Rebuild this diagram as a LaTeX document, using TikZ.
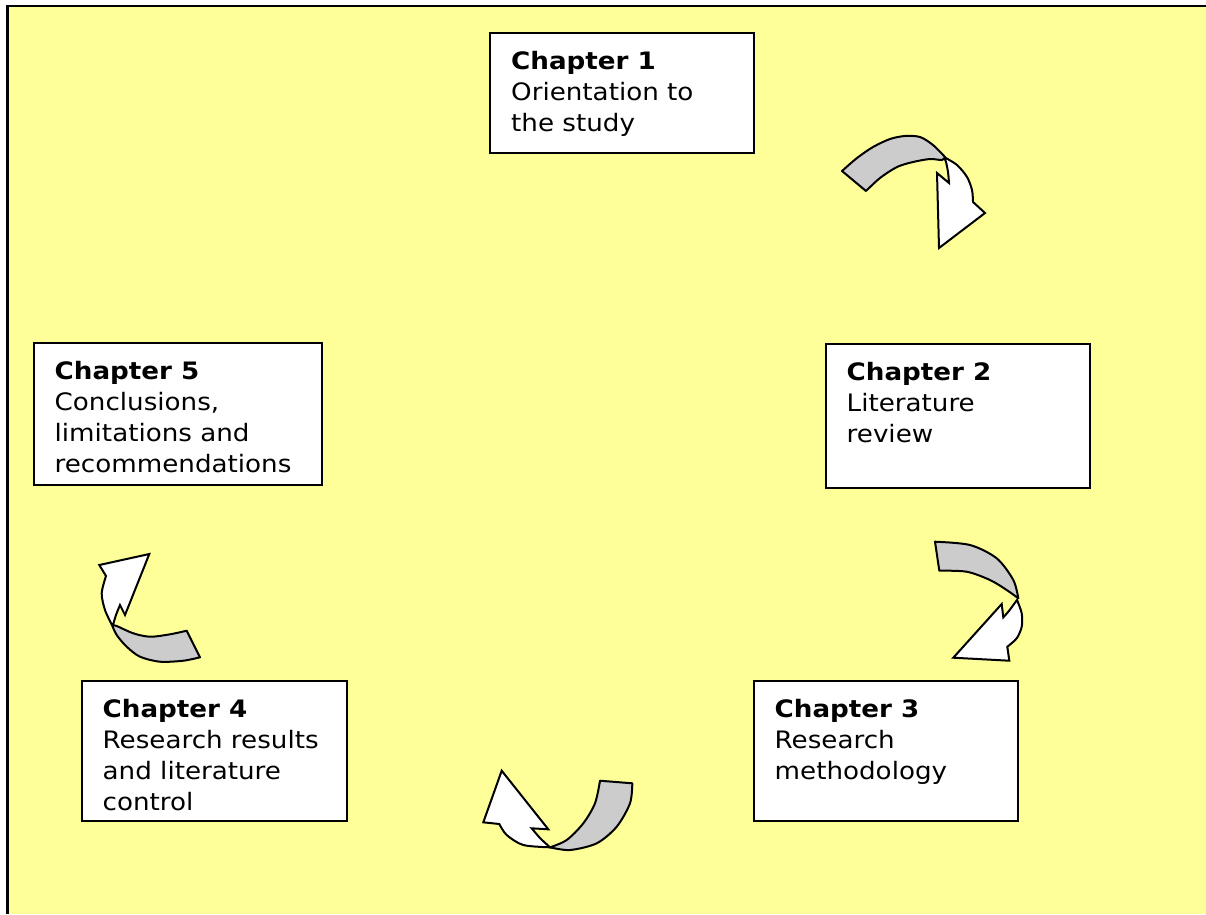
\documentclass[tikz,border=0pt]{standalone}
\usepackage{fontspec}
\setmainfont{DejaVu Sans}[FakeStretch=1.09]
\usetikzlibrary{calc}
\definecolor{bgyellow}{HTML}{FFFF99}
\definecolor{bandgray}{HTML}{CCCCCC}
\begin{document}
\begin{tikzpicture}[x=1pt,y=-1pt,
  chbox/.style={draw=black, line width=2.4pt, fill=white, anchor=north west, inner sep=0pt},
  chtext/.style={anchor=north west, inner sep=0pt, align=left, font=\fontsize{24}{31}\selectfont},
  band/.style={draw=black, line width=2pt, fill=bandgray, line join=round},
  head/.style={draw=black, line width=2pt, fill=white, line join=miter}]
\useasboundingbox (0,0) rectangle (1206,914);
\fill[bgyellow] (7.5,6) rectangle (1206,914);
\draw[line width=2.4pt] (7.5,914) -- (7.5,6) -- (1206,6);

% boxes
\node[chbox, minimum width=264pt, minimum height=120pt] (c1) at (489,32) {};
\node[chbox, minimum width=264pt, minimum height=144pt] (c2) at (825,343) {};
\node[chbox, minimum width=264pt, minimum height=140pt] (c3) at (753,680) {};
\node[chbox, minimum width=265pt, minimum height=140pt] (c4) at (81,680) {};
\node[chbox, minimum width=288pt, minimum height=142pt] (c5) at (33,342) {};

\node[chtext] (c1t) at ($(c1.north west)+(22,19.3)$) {\textbf{Chapter 1}\\Orientation to\\the study};
\node[chtext] (c2t) at ($(c2.north west)+(21.5,19.3)$) {\textbf{Chapter 2}\\Literature\\review};
\node[chtext] (c3t) at ($(c3.north west)+(21.5,19.3)$) {\textbf{Chapter 3}\\Research\\methodology};
\node[chtext] (c4t) at ($(c4.north west)+(21.5,19.3)$) {\textbf{Chapter 4}\\Research results\\and literature\\control};
\node[chtext] (c5t) at ($(c5.north west)+(21.5,19.3)$) {\textbf{Chapter 5}\\Conclusions,\\limitations and\\recommendations};

% arrow 1 (chapter 1 -> chapter 2)
\filldraw[head] (944,157) -- plot[smooth] coordinates {(944,157) (957,165) (967,177) (972,190) (973,202)}
  -- (985,213) -- (939,248) -- (937,173) -- (949,183)
  -- plot[smooth] coordinates {(949,183) (948,172) (946,162) (944,157)} -- cycle;
\filldraw[band] (842,171) -- plot[smooth] coordinates {(842,171) (857,158) (873,147) (890,139) (905,136) (920,137) (933,145) (945,157)}
  -- plot[smooth] coordinates {(945,157) (942,160) (930,159) (913,162) (897,167) (880,178) (866,191)} -- cycle;

% arrow 2 (chapter 2 -> chapter 3)
\filldraw[head] (1017,600) -- plot[smooth] coordinates {(1017,600) (1021.7,613.3) (1021.7,626.7) (1016.7,638.3) (1007.3,646.7)}
  -- (1009.3,660.7) -- (953.3,657.7) -- (1001.7,604) -- (1003.3,617.3)
  -- plot[smooth] coordinates {(1003.3,617.3) (1008.3,611.7) (1013.3,605) (1017,600)} -- cycle;
\filldraw[band] (935,541.7) -- plot[smooth] coordinates {(935,541.7) (970,545) (996.7,558.3) (1013.3,580) (1018.3,598.3)}
  -- plot[smooth] coordinates {(1018.3,598.3) (1006.7,590) (990,580) (966.7,571.7) (939.3,570.7)} -- cycle;

% arrow 3 (chapter 3 -> chapter 4)
\filldraw[head] (550,847.3) -- plot[smooth] coordinates {(550,847.3) (523.3,845) (506.7,835) (499.3,824)}
  -- (483.3,822.3) -- (501.7,770.7) -- (548.3,829.3) -- (531.7,828.3)
  -- plot[smooth] coordinates {(531.7,828.3) (540,838) (550,847.3)} -- cycle;
\filldraw[band] (600,780.7) -- (632.3,783.3)
  -- plot[smooth] coordinates {(632.3,783.3) (630,803.3) (616.7,826.7) (596.7,843.3) (570,850) (550,847.3)}
  -- plot[smooth] coordinates {(550,847.3) (566.7,840) (583.3,823.3) (595,803.3) (600,780.7)} -- cycle;

% arrow 4 (chapter 4 -> chapter 5)
\filldraw[head] (112,625) -- plot[smooth] coordinates {(112,625) (105,610) (101.7,593.3) (106,576)}
  -- (99.3,565) -- (149.3,554) -- (125,615) -- (120,605)
  -- plot[smooth] coordinates {(120,605) (116,615) (113,625)} -- cycle;
\filldraw[band] (186.7,630.7) -- (200,657.3)
  -- plot[smooth] coordinates {(200,657.3) (183.3,660.7) (160,661.7) (140,656.7) (126.7,646.7) (116.7,635) (112,625)}
  -- plot[smooth] coordinates {(112,625) (116.7,626) (133.3,633.3) (150,636.7) (170,634.3) (186.7,630.7)} -- cycle;
\end{tikzpicture}
\end{document}
